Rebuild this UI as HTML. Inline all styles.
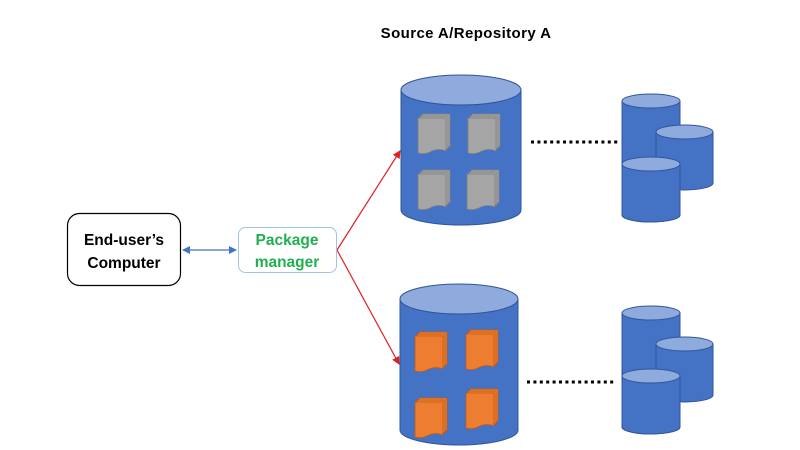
<!DOCTYPE html>
<html><head><meta charset="utf-8"><style>
html,body{margin:0;padding:0;background:#fff;}
svg{display:block;}
</style></head><body>
<svg width="800" height="450" viewBox="0 0 800 450" xmlns="http://www.w3.org/2000/svg">
<defs>
<marker id="ar" markerWidth="8" markerHeight="8" refX="7" refY="4" orient="auto" markerUnits="userSpaceOnUse"><path d="M0,0 L8,4 L0,8 z" fill="#e02020"/></marker>
<marker id="ab" markerWidth="8" markerHeight="8" refX="7" refY="4" orient="auto-start-reverse" markerUnits="userSpaceOnUse"><path d="M0,0 L8,4 L0,8 z" fill="#4472c4"/></marker>
<g id="sheet"><path d="M0,0 h28 v33 q-7,-3 -14,0 q-7,4 -14,2 z"/></g>
</defs>
<text x="466" y="38" text-anchor="middle" font-family="Liberation Sans, sans-serif" font-weight="bold" font-size="15" letter-spacing="0.4" fill="#000">Source A/Repository A</text>

<path d="M401,90 V210 A60,15 0 0 0 521,210 V90 Z" fill="#4472c4" stroke="#2f5597" stroke-width="1"/>
<ellipse cx="461" cy="90" rx="60" ry="15" fill="#8faadc" stroke="#2f5597" stroke-width="1"/>
<path d="M400,299 V430 A59,15 0 0 0 518,430 V299 Z" fill="#4472c4" stroke="#2f5597" stroke-width="1"/>
<ellipse cx="459" cy="299" rx="59" ry="15" fill="#8faadc" stroke="#2f5597" stroke-width="1"/>

<g fill="#a5a5a5" stroke="#7f7f7f" stroke-width="0.8">
<g transform="translate(418,118)"><use href="#sheet" x="4" y="-4"/><use href="#sheet" x="2" y="-2"/><use href="#sheet"/></g>
<g transform="translate(468,118)"><use href="#sheet" x="4" y="-4"/><use href="#sheet" x="2" y="-2"/><use href="#sheet"/></g>
<g transform="translate(418,174)"><use href="#sheet" x="4" y="-4"/><use href="#sheet" x="2" y="-2"/><use href="#sheet"/></g>
<g transform="translate(467,174)"><use href="#sheet" x="4" y="-4"/><use href="#sheet" x="2" y="-2"/><use href="#sheet"/></g>
</g>
<g fill="#ed7d31" stroke="#c55a11" stroke-width="0.8">
<g transform="translate(415,336)"><use href="#sheet" x="4" y="-4"/><use href="#sheet" x="2" y="-2"/><use href="#sheet"/></g>
<g transform="translate(466,334)"><use href="#sheet" x="4" y="-4"/><use href="#sheet" x="2" y="-2"/><use href="#sheet"/></g>
<g transform="translate(415,402)"><use href="#sheet" x="4" y="-4"/><use href="#sheet" x="2" y="-2"/><use href="#sheet"/></g>
<g transform="translate(466,393)"><use href="#sheet" x="4" y="-4"/><use href="#sheet" x="2" y="-2"/><use href="#sheet"/></g>
</g>

<line x1="531" y1="142" x2="620" y2="142" stroke="#000" stroke-width="3" stroke-dasharray="3,3.4"/>
<line x1="527" y1="382" x2="616" y2="382" stroke="#000" stroke-width="3" stroke-dasharray="3,3.4"/>

<g stroke="#2f5597" stroke-width="1">
<path d="M622,101 V215 A29,7 0 0 0 680,215 V101 Z" fill="#4472c4"/>
<ellipse cx="651" cy="101" rx="29" ry="7" fill="#8faadc"/>
<path d="M656,132 V183 A28.5,7 0 0 0 713,183 V132 Z" fill="#4472c4"/>
<ellipse cx="684.5" cy="132" rx="28.5" ry="7" fill="#8faadc"/>
<path d="M622,164 V215 A29,7 0 0 0 680,215 V164 Z" fill="#4472c4"/>
<ellipse cx="651" cy="164" rx="29" ry="7" fill="#8faadc"/>
</g>
<g stroke="#2f5597" stroke-width="1" transform="translate(0,212)">
<path d="M622,101 V215 A29,7 0 0 0 680,215 V101 Z" fill="#4472c4"/>
<ellipse cx="651" cy="101" rx="29" ry="7" fill="#8faadc"/>
<path d="M656,132 V183 A28.5,7 0 0 0 713,183 V132 Z" fill="#4472c4"/>
<ellipse cx="684.5" cy="132" rx="28.5" ry="7" fill="#8faadc"/>
<path d="M622,164 V215 A29,7 0 0 0 680,215 V164 Z" fill="#4472c4"/>
<ellipse cx="651" cy="164" rx="29" ry="7" fill="#8faadc"/>
</g>

<line x1="337" y1="250" x2="400" y2="151" stroke="#e02020" stroke-width="1.2" marker-end="url(#ar)"/>
<line x1="337" y1="250" x2="399" y2="364" stroke="#e02020" stroke-width="1.2" marker-end="url(#ar)"/>

<line x1="183" y1="250" x2="236" y2="250" stroke="#4472c4" stroke-width="1.3" marker-start="url(#ab)" marker-end="url(#ab)"/>

<rect x="67.5" y="213.5" width="113" height="72" rx="12" fill="#fff" stroke="#000" stroke-width="1.2"/>
<text x="124" y="245" text-anchor="middle" font-family="Liberation Sans, sans-serif" font-weight="bold" font-size="15.5" fill="#000">End-user’s</text>
<text x="124" y="268" text-anchor="middle" font-family="Liberation Sans, sans-serif" font-weight="bold" font-size="15.5" fill="#000">Computer</text>

<rect x="238.5" y="227.5" width="98" height="45" rx="7" fill="#fff" stroke="#9dc3e6" stroke-width="1"/>
<text x="287" y="245" text-anchor="middle" font-family="Liberation Sans, sans-serif" font-weight="bold" font-size="15.5" fill="#1fb050">Package</text>
<text x="287" y="267" text-anchor="middle" font-family="Liberation Sans, sans-serif" font-weight="bold" font-size="15.5" fill="#1fb050">manager</text>
</svg>
</body></html>
